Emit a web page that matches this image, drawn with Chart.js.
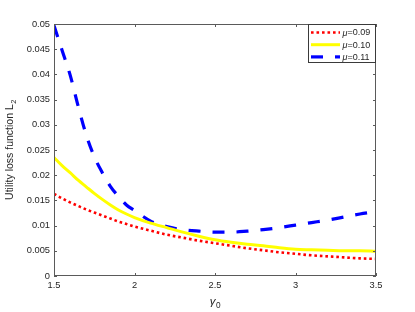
<!DOCTYPE html>
<html>
<head>
<meta charset="utf-8">
<script src="https://cdn.jsdelivr.net/npm/chart.js@4.4.0/dist/chart.umd.min.js"></script>
<style>
  html, body { margin: 0; padding: 0; background: #fff; }
</style>
</head>
<body>
<canvas id="chart" width="415" height="312"></canvas>
<script>
// values
const gamma = [1.5, 1.55, 1.6, 1.65, 1.7, 1.75, 1.8, 1.85, 1.9, 1.95, 2.0,
               2.1, 2.2, 2.3, 2.4, 2.5, 2.6, 2.7, 2.8, 2.9, 3.0, 3.1, 3.2, 3.3, 3.4, 3.5];
const lossMu09 = [0.0163, 0.0154, 0.0146, 0.0139, 0.0132, 0.0126, 0.0120, 0.0114, 0.0108, 0.0103, 0.0098,
                  0.0090, 0.0082, 0.0076, 0.0070, 0.0065, 0.0060, 0.0055, 0.0051, 0.0047, 0.0044, 0.0041, 0.0039, 0.0037, 0.0035, 0.0034];
const lossMu10 = [0.0235, 0.0219, 0.0205, 0.0190, 0.0177, 0.0164, 0.0152, 0.0141, 0.0131, 0.0123, 0.0116,
                  0.0105, 0.0096, 0.0087, 0.0079, 0.0072, 0.0067, 0.0063, 0.0060, 0.0056, 0.0053, 0.0052, 0.0051, 0.0050, 0.0050, 0.0049];
const lossMu11 = [0.0497, 0.0448, 0.0399, 0.0337, 0.0280, 0.0237, 0.0205, 0.0178, 0.0158, 0.0141, 0.0130,
                  0.0109, 0.0098, 0.0092, 0.0089, 0.0087, 0.0087, 0.0089, 0.0092, 0.0096, 0.0101, 0.0106, 0.0111, 0.0117, 0.0123, 0.0128];
const muLabels = ['0.09', '0.10', '0.11'];
const xTicks = [1.5, 2, 2.5, 3, 3.5];

const axisColor = '#262626';
const fontFam = '"Liberation Sans", Arial, Helvetica, sans-serif';

function pts(ys) { return gamma.map((g, i) => ({ x: g, y: ys[i] })); }

// text with a lowered, smaller subscript, centred on cx
function subText(ctx, main, sub, cx, cy, size, mainItalic) {
  ctx.font = (mainItalic ? 'italic ' : '') + size + 'px ' + fontFam;
  const w1 = ctx.measureText(main).width;
  ctx.font = (size * 0.72) + 'px ' + fontFam;
  const w2 = ctx.measureText(sub).width;
  const x = cx - (w1 + w2) / 2;
  ctx.textBaseline = 'alphabetic';
  ctx.textAlign = 'left';
  ctx.font = (mainItalic ? 'italic ' : '') + size + 'px ' + fontFam;
  ctx.fillText(main, x, cy);
  ctx.font = (size * 0.72) + 'px ' + fontFam;
  ctx.fillText(sub, x + w1 + 0.5, cy + size * 0.3);
}

// box, inward ticks on all four sides (matlab style), axis titles, legend
const boxPlugin = {
  id: 'box',
  afterDatasetsDraw(chart) {
    const { ctx, chartArea: a, scales } = chart;
    ctx.save();
    ctx.strokeStyle = '#5a5a5a';
    ctx.lineWidth = 1;
    ctx.strokeRect(Math.round(a.left) + 0.5, Math.round(a.top) + 0.5,
                   Math.round(a.right - a.left) - 1, Math.round(a.bottom - a.top) - 1);
    ctx.beginPath();
    scales.x.ticks.forEach(t => {
      const px = Math.round(scales.x.getPixelForValue(t.value)) + 0.5;
      ctx.moveTo(px, a.bottom); ctx.lineTo(px, a.bottom - 3);
      ctx.moveTo(px, a.top); ctx.lineTo(px, a.top + 3);
    });
    scales.y.ticks.forEach(t => {
      const py = Math.round(scales.y.getPixelForValue(t.value)) + 0.5;
      ctx.moveTo(a.left, py); ctx.lineTo(a.left + 3, py);
      ctx.moveTo(a.right, py); ctx.lineTo(a.right - 3, py);
    });
    ctx.stroke();

    ctx.fillStyle = axisColor;
    subText(ctx, 'γ', '0', (a.left + a.right) / 2, 305, 11.5, true);
    ctx.save();
    ctx.translate(13, (a.top + a.bottom) / 2);
    ctx.rotate(-Math.PI / 2);
    subText(ctx, 'Utility loss function L', '2', 0, 0, 10.5, false);
    ctx.restore();
    ctx.restore();
  },
  afterDraw(chart) {
    const { ctx, chartArea: a } = chart;
    const w = 68, h = 39;
    const x0 = a.right - w, y0 = a.top;
    ctx.save();
    ctx.fillStyle = '#fff';
    ctx.fillRect(x0, y0, w, h);
    ctx.strokeStyle = '#3a3a3a';
    ctx.lineWidth = 1;
    ctx.strokeRect(Math.round(x0) + 0.5, Math.round(y0) + 0.5, w - 1, h - 1);
    chart.data.datasets.forEach((ds, i) => {
      const yy = y0 + 8.5 + i * 12.2;
      ctx.beginPath();
      ctx.strokeStyle = ds.borderColor;
      ctx.lineWidth = ds.borderWidth;
      ctx.setLineDash(ds.borderDash || []);
      ctx.moveTo(x0 + 3, yy);
      ctx.lineTo(x0 + 32, yy);
      ctx.stroke();
      ctx.setLineDash([]);
      ctx.fillStyle = axisColor;
      ctx.textBaseline = 'middle';
      ctx.font = 'italic 9px ' + fontFam;
      ctx.fillText('μ', x0 + 34.5, yy + 0.5);
      const mw = ctx.measureText('μ').width;
      ctx.font = '9px ' + fontFam;
      ctx.fillText('=' + muLabels[i], x0 + 34.5 + mw, yy + 0.5);
    });
    ctx.restore();
  }
};

new Chart(document.getElementById('chart'), {
  type: 'line',
  data: {
    datasets: [
      { label: 'μ=' + muLabels[0], data: pts(lossMu09), borderColor: '#ff0000', borderWidth: 2.6,
        borderDash: [2.6, 2.9], borderCapStyle: 'butt' },
      { label: 'μ=' + muLabels[1], data: pts(lossMu10), borderColor: '#ffff00', borderWidth: 3 },
      { label: 'μ=' + muLabels[2], data: pts(lossMu11), borderColor: '#0000ff', borderWidth: 3.2,
        borderDash: [12, 12], borderCapStyle: 'butt' }
    ]
  },
  options: {
    responsive: false,
    animation: false,
    events: [],
    layout: { padding: { top: 24, right: 39, left: 0, bottom: 0 } },
    elements: { point: { radius: 0 }, line: { cubicInterpolationMode: 'monotone', fill: false } },
    plugins: { legend: { display: false }, tooltip: { enabled: false } },
    scales: {
      x: {
        type: 'linear', min: 1.5, max: 3.5,
        afterFit: s => { s.height = 36; },
        afterBuildTicks: s => { s.ticks = xTicks.map(v => ({ value: v })); },
        grid: { display: false, drawTicks: false },
        border: { display: false },
        ticks: { color: axisColor, padding: 4, maxRotation: 0,
                 font: { family: fontFam, size: 9.3 },
                 callback: v => String(+v.toFixed(2)) }
      },
      y: {
        min: 0, max: 0.05,
        afterFit: s => { s.width = 54; },
        grid: { display: false, drawTicks: false },
        border: { display: false },
        ticks: { stepSize: 0.005, color: axisColor, padding: 4,
                 font: { family: fontFam, size: 9.3 },
                 callback: v => String(+v.toFixed(3)) }
      }
    }
  },
  plugins: [boxPlugin]
});
</script>
</body>
</html>
